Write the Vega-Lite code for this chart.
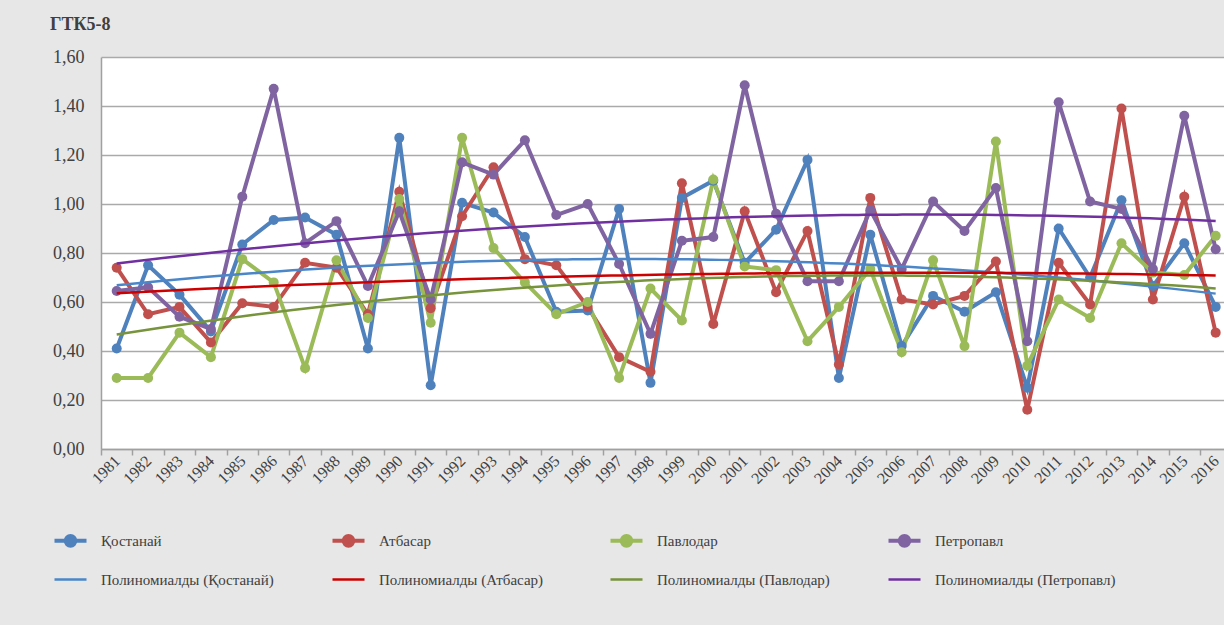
{
  "$schema": "https://vega.github.io/schema/vega-lite/v6.json",
  "autosize": {"type": "none"},
  "padding": {"left": 101, "top": 57, "right": 0, "bottom": 176},
  "width": 1123,
  "height": 392,
  "background": "#e7e7e7",
  "title": {
    "text": "ГТК5-8",
    "anchor": "start",
    "frame": "group",
    "dx": -51,
    "dy": 26,
    "offset": 26,
    "baseline": "alphabetic",
    "font": "Liberation Serif",
    "fontSize": 18,
    "fontWeight": "bold",
    "color": "#404040"
  },
  "config": {
    "view": {"fill": "white", "stroke": null},
    "font": "Liberation Serif",
    "legend": {"labelFont": "Liberation Serif"},
    "axis": {
      "labelFont": "Liberation Serif",
      "labelColor": "#404040",
      "domainColor": "#a0a0a0",
      "domainWidth": 1.5,
      "tickColor": "#a0a0a0",
      "tickWidth": 1.5,
      "gridColor": "#aaaaaa",
      "gridWidth": 1.5
    }
  },
  "datasets": {
    "d": [
      {"year":1981,"station":"Қостанай","trend":"Полиномиалды (Қостанай)","value":0.41},
      {"year":1982,"station":"Қостанай","trend":"Полиномиалды (Қостанай)","value":0.75},
      {"year":1983,"station":"Қостанай","trend":"Полиномиалды (Қостанай)","value":0.63},
      {"year":1984,"station":"Қостанай","trend":"Полиномиалды (Қостанай)","value":0.48},
      {"year":1985,"station":"Қостанай","trend":"Полиномиалды (Қостанай)","value":0.835},
      {"year":1986,"station":"Қостанай","trend":"Полиномиалды (Қостанай)","value":0.935},
      {"year":1987,"station":"Қостанай","trend":"Полиномиалды (Қостанай)","value":0.945},
      {"year":1988,"station":"Қостанай","trend":"Полиномиалды (Қостанай)","value":0.875},
      {"year":1989,"station":"Қостанай","trend":"Полиномиалды (Қостанай)","value":0.41},
      {"year":1990,"station":"Қостанай","trend":"Полиномиалды (Қостанай)","value":1.27},
      {"year":1991,"station":"Қостанай","trend":"Полиномиалды (Қостанай)","value":0.26},
      {"year":1992,"station":"Қостанай","trend":"Полиномиалды (Қостанай)","value":1.005},
      {"year":1993,"station":"Қостанай","trend":"Полиномиалды (Қостанай)","value":0.965},
      {"year":1994,"station":"Қостанай","trend":"Полиномиалды (Қостанай)","value":0.865},
      {"year":1995,"station":"Қостанай","trend":"Полиномиалды (Қостанай)","value":0.56},
      {"year":1996,"station":"Қостанай","trend":"Полиномиалды (Қостанай)","value":0.565},
      {"year":1997,"station":"Қостанай","trend":"Полиномиалды (Қостанай)","value":0.98},
      {"year":1998,"station":"Қостанай","trend":"Полиномиалды (Қостанай)","value":0.27},
      {"year":1999,"station":"Қостанай","trend":"Полиномиалды (Қостанай)","value":1.025},
      {"year":2000,"station":"Қостанай","trend":"Полиномиалды (Қостанай)","value":1.095},
      {"year":2001,"station":"Қостанай","trend":"Полиномиалды (Қостанай)","value":0.76},
      {"year":2002,"station":"Қостанай","trend":"Полиномиалды (Қостанай)","value":0.895},
      {"year":2003,"station":"Қостанай","trend":"Полиномиалды (Қостанай)","value":1.18},
      {"year":2004,"station":"Қостанай","trend":"Полиномиалды (Қостанай)","value":0.29},
      {"year":2005,"station":"Қостанай","trend":"Полиномиалды (Қостанай)","value":0.875},
      {"year":2006,"station":"Қостанай","trend":"Полиномиалды (Қостанай)","value":0.42},
      {"year":2007,"station":"Қостанай","trend":"Полиномиалды (Қостанай)","value":0.625},
      {"year":2008,"station":"Қостанай","trend":"Полиномиалды (Қостанай)","value":0.56},
      {"year":2009,"station":"Қостанай","trend":"Полиномиалды (Қостанай)","value":0.64},
      {"year":2010,"station":"Қостанай","trend":"Полиномиалды (Қостанай)","value":0.25},
      {"year":2011,"station":"Қостанай","trend":"Полиномиалды (Қостанай)","value":0.9},
      {"year":2012,"station":"Қостанай","trend":"Полиномиалды (Қостанай)","value":0.7},
      {"year":2013,"station":"Қостанай","trend":"Полиномиалды (Қостанай)","value":1.015},
      {"year":2014,"station":"Қостанай","trend":"Полиномиалды (Қостанай)","value":0.665},
      {"year":2015,"station":"Қостанай","trend":"Полиномиалды (Қостанай)","value":0.84},
      {"year":2016,"station":"Қостанай","trend":"Полиномиалды (Қостанай)","value":0.58},

      {"year":1981,"station":"Атбасар","trend":"Полиномиалды (Атбасар)","value":0.74},
      {"year":1982,"station":"Атбасар","trend":"Полиномиалды (Атбасар)","value":0.55},
      {"year":1983,"station":"Атбасар","trend":"Полиномиалды (Атбасар)","value":0.58},
      {"year":1984,"station":"Атбасар","trend":"Полиномиалды (Атбасар)","value":0.435},
      {"year":1985,"station":"Атбасар","trend":"Полиномиалды (Атбасар)","value":0.595},
      {"year":1986,"station":"Атбасар","trend":"Полиномиалды (Атбасар)","value":0.58},
      {"year":1987,"station":"Атбасар","trend":"Полиномиалды (Атбасар)","value":0.76},
      {"year":1988,"station":"Атбасар","trend":"Полиномиалды (Атбасар)","value":0.74},
      {"year":1989,"station":"Атбасар","trend":"Полиномиалды (Атбасар)","value":0.55},
      {"year":1990,"station":"Атбасар","trend":"Полиномиалды (Атбасар)","value":1.05},
      {"year":1991,"station":"Атбасар","trend":"Полиномиалды (Атбасар)","value":0.575},
      {"year":1992,"station":"Атбасар","trend":"Полиномиалды (Атбасар)","value":0.95},
      {"year":1993,"station":"Атбасар","trend":"Полиномиалды (Атбасар)","value":1.15},
      {"year":1994,"station":"Атбасар","trend":"Полиномиалды (Атбасар)","value":0.775},
      {"year":1995,"station":"Атбасар","trend":"Полиномиалды (Атбасар)","value":0.75},
      {"year":1996,"station":"Атбасар","trend":"Полиномиалды (Атбасар)","value":0.58},
      {"year":1997,"station":"Атбасар","trend":"Полиномиалды (Атбасар)","value":0.375},
      {"year":1998,"station":"Атбасар","trend":"Полиномиалды (Атбасар)","value":0.315},
      {"year":1999,"station":"Атбасар","trend":"Полиномиалды (Атбасар)","value":1.085},
      {"year":2000,"station":"Атбасар","trend":"Полиномиалды (Атбасар)","value":0.51},
      {"year":2001,"station":"Атбасар","trend":"Полиномиалды (Атбасар)","value":0.97},
      {"year":2002,"station":"Атбасар","trend":"Полиномиалды (Атбасар)","value":0.64},
      {"year":2003,"station":"Атбасар","trend":"Полиномиалды (Атбасар)","value":0.89},
      {"year":2004,"station":"Атбасар","trend":"Полиномиалды (Атбасар)","value":0.345},
      {"year":2005,"station":"Атбасар","trend":"Полиномиалды (Атбасар)","value":1.025},
      {"year":2006,"station":"Атбасар","trend":"Полиномиалды (Атбасар)","value":0.61},
      {"year":2007,"station":"Атбасар","trend":"Полиномиалды (Атбасар)","value":0.59},
      {"year":2008,"station":"Атбасар","trend":"Полиномиалды (Атбасар)","value":0.625},
      {"year":2009,"station":"Атбасар","trend":"Полиномиалды (Атбасар)","value":0.765},
      {"year":2010,"station":"Атбасар","trend":"Полиномиалды (Атбасар)","value":0.16},
      {"year":2011,"station":"Атбасар","trend":"Полиномиалды (Атбасар)","value":0.76},
      {"year":2012,"station":"Атбасар","trend":"Полиномиалды (Атбасар)","value":0.59},
      {"year":2013,"station":"Атбасар","trend":"Полиномиалды (Атбасар)","value":1.39},
      {"year":2014,"station":"Атбасар","trend":"Полиномиалды (Атбасар)","value":0.61},
      {"year":2015,"station":"Атбасар","trend":"Полиномиалды (Атбасар)","value":1.03},
      {"year":2016,"station":"Атбасар","trend":"Полиномиалды (Атбасар)","value":0.475},

      {"year":1981,"station":"Павлодар","trend":"Полиномиалды (Павлодар)","value":0.29},
      {"year":1982,"station":"Павлодар","trend":"Полиномиалды (Павлодар)","value":0.29},
      {"year":1983,"station":"Павлодар","trend":"Полиномиалды (Павлодар)","value":0.475},
      {"year":1984,"station":"Павлодар","trend":"Полиномиалды (Павлодар)","value":0.375},
      {"year":1985,"station":"Павлодар","trend":"Полиномиалды (Павлодар)","value":0.775},
      {"year":1986,"station":"Павлодар","trend":"Полиномиалды (Павлодар)","value":0.68},
      {"year":1987,"station":"Павлодар","trend":"Полиномиалды (Павлодар)","value":0.33},
      {"year":1988,"station":"Павлодар","trend":"Полиномиалды (Павлодар)","value":0.77},
      {"year":1989,"station":"Павлодар","trend":"Полиномиалды (Павлодар)","value":0.535},
      {"year":1990,"station":"Павлодар","trend":"Полиномиалды (Павлодар)","value":1.02},
      {"year":1991,"station":"Павлодар","trend":"Полиномиалды (Павлодар)","value":0.515},
      {"year":1992,"station":"Павлодар","trend":"Полиномиалды (Павлодар)","value":1.27},
      {"year":1993,"station":"Павлодар","trend":"Полиномиалды (Павлодар)","value":0.82},
      {"year":1994,"station":"Павлодар","trend":"Полиномиалды (Павлодар)","value":0.68},
      {"year":1995,"station":"Павлодар","trend":"Полиномиалды (Павлодар)","value":0.55},
      {"year":1996,"station":"Павлодар","trend":"Полиномиалды (Павлодар)","value":0.6},
      {"year":1997,"station":"Павлодар","trend":"Полиномиалды (Павлодар)","value":0.29},
      {"year":1998,"station":"Павлодар","trend":"Полиномиалды (Павлодар)","value":0.655},
      {"year":1999,"station":"Павлодар","trend":"Полиномиалды (Павлодар)","value":0.525},
      {"year":2000,"station":"Павлодар","trend":"Полиномиалды (Павлодар)","value":1.1},
      {"year":2001,"station":"Павлодар","trend":"Полиномиалды (Павлодар)","value":0.745},
      {"year":2002,"station":"Павлодар","trend":"Полиномиалды (Павлодар)","value":0.73},
      {"year":2003,"station":"Павлодар","trend":"Полиномиалды (Павлодар)","value":0.44},
      {"year":2004,"station":"Павлодар","trend":"Полиномиалды (Павлодар)","value":0.58},
      {"year":2005,"station":"Павлодар","trend":"Полиномиалды (Павлодар)","value":0.735},
      {"year":2006,"station":"Павлодар","trend":"Полиномиалды (Павлодар)","value":0.395},
      {"year":2007,"station":"Павлодар","trend":"Полиномиалды (Павлодар)","value":0.77},
      {"year":2008,"station":"Павлодар","trend":"Полиномиалды (Павлодар)","value":0.42},
      {"year":2009,"station":"Павлодар","trend":"Полиномиалды (Павлодар)","value":1.255},
      {"year":2010,"station":"Павлодар","trend":"Полиномиалды (Павлодар)","value":0.34},
      {"year":2011,"station":"Павлодар","trend":"Полиномиалды (Павлодар)","value":0.61},
      {"year":2012,"station":"Павлодар","trend":"Полиномиалды (Павлодар)","value":0.535},
      {"year":2013,"station":"Павлодар","trend":"Полиномиалды (Павлодар)","value":0.84},
      {"year":2014,"station":"Павлодар","trend":"Полиномиалды (Павлодар)","value":0.72},
      {"year":2015,"station":"Павлодар","trend":"Полиномиалды (Павлодар)","value":0.71},
      {"year":2016,"station":"Павлодар","trend":"Полиномиалды (Павлодар)","value":0.87},

      {"year":1981,"station":"Петропавл","trend":"Полиномиалды (Петропавл)","value":0.645},
      {"year":1982,"station":"Петропавл","trend":"Полиномиалды (Петропавл)","value":0.66},
      {"year":1983,"station":"Петропавл","trend":"Полиномиалды (Петропавл)","value":0.54},
      {"year":1984,"station":"Петропавл","trend":"Полиномиалды (Петропавл)","value":0.49},
      {"year":1985,"station":"Петропавл","trend":"Полиномиалды (Петропавл)","value":1.03},
      {"year":1986,"station":"Петропавл","trend":"Полиномиалды (Петропавл)","value":1.47},
      {"year":1987,"station":"Петропавл","trend":"Полиномиалды (Петропавл)","value":0.84},
      {"year":1988,"station":"Петропавл","trend":"Полиномиалды (Петропавл)","value":0.93},
      {"year":1989,"station":"Петропавл","trend":"Полиномиалды (Петропавл)","value":0.665},
      {"year":1990,"station":"Петропавл","trend":"Полиномиалды (Петропавл)","value":0.97},
      {"year":1991,"station":"Петропавл","trend":"Полиномиалды (Петропавл)","value":0.61},
      {"year":1992,"station":"Петропавл","trend":"Полиномиалды (Петропавл)","value":1.17},
      {"year":1993,"station":"Петропавл","trend":"Полиномиалды (Петропавл)","value":1.12},
      {"year":1994,"station":"Петропавл","trend":"Полиномиалды (Петропавл)","value":1.26},
      {"year":1995,"station":"Петропавл","trend":"Полиномиалды (Петропавл)","value":0.955},
      {"year":1996,"station":"Петропавл","trend":"Полиномиалды (Петропавл)","value":1.0},
      {"year":1997,"station":"Петропавл","trend":"Полиномиалды (Петропавл)","value":0.755},
      {"year":1998,"station":"Петропавл","trend":"Полиномиалды (Петропавл)","value":0.47},
      {"year":1999,"station":"Петропавл","trend":"Полиномиалды (Петропавл)","value":0.85},
      {"year":2000,"station":"Петропавл","trend":"Полиномиалды (Петропавл)","value":0.865},
      {"year":2001,"station":"Петропавл","trend":"Полиномиалды (Петропавл)","value":1.485},
      {"year":2002,"station":"Петропавл","trend":"Полиномиалды (Петропавл)","value":0.96},
      {"year":2003,"station":"Петропавл","trend":"Полиномиалды (Петропавл)","value":0.685},
      {"year":2004,"station":"Петропавл","trend":"Полиномиалды (Петропавл)","value":0.685},
      {"year":2005,"station":"Петропавл","trend":"Полиномиалды (Петропавл)","value":0.975},
      {"year":2006,"station":"Петропавл","trend":"Полиномиалды (Петропавл)","value":0.735},
      {"year":2007,"station":"Петропавл","trend":"Полиномиалды (Петропавл)","value":1.01},
      {"year":2008,"station":"Петропавл","trend":"Полиномиалды (Петропавл)","value":0.89},
      {"year":2009,"station":"Петропавл","trend":"Полиномиалды (Петропавл)","value":1.065},
      {"year":2010,"station":"Петропавл","trend":"Полиномиалды (Петропавл)","value":0.44},
      {"year":2011,"station":"Петропавл","trend":"Полиномиалды (Петропавл)","value":1.415},
      {"year":2012,"station":"Петропавл","trend":"Полиномиалды (Петропавл)","value":1.01},
      {"year":2013,"station":"Петропавл","trend":"Полиномиалды (Петропавл)","value":0.98},
      {"year":2014,"station":"Петропавл","trend":"Полиномиалды (Петропавл)","value":0.735},
      {"year":2015,"station":"Петропавл","trend":"Полиномиалды (Петропавл)","value":1.36},
      {"year":2016,"station":"Петропавл","trend":"Полиномиалды (Петропавл)","value":0.815}
    ]
  },
  "data": {"name": "d"},
  "encoding": {
    "x": {
      "field": "year",
      "type": "quantitative",
      "scale": {"domain": [1980.5, 2016.265], "nice": false, "zero": false},
      "axis": {
        "title": null,
        "grid": false,
        "values": [1981,1982,1983,1984,1985,1986,1987,1988,1989,1990,1991,1992,1993,1994,1995,1996,1997,1998,1999,2000,2001,2002,2003,2004,2005,2006,2007,2008,2009,2010,2011,2012,2013,2014,2015,2016],
        "format": "d",
        "tickOffset": -15.7,
        "labelOffset": 16,
        "tickSize": 6,
        "labelAngle": -45,
        "labelAlign": "right",
        "labelBaseline": "middle",
        "labelFontSize": 16,
        "labelPadding": 3,
        "labelOverlap": false
      }
    },
    "y": {
      "field": "value",
      "type": "quantitative",
      "scale": {"domain": [0, 1.6], "nice": false},
      "axis": {
        "title": null,
        "values": [0, 0.2, 0.4, 0.6, 0.8, 1.0, 1.2, 1.4, 1.6],
        "labelExpr": "replace(format(datum.value, '.2f'), '.', ',')",
        "ticks": false,
        "labelPadding": 17,
        "labelFontSize": 18,
        "grid": true
      }
    },
    "color": {
      "field": "station",
      "type": "nominal",
      "scale": {
        "domain": ["Қостанай", "Атбасар", "Павлодар", "Петропавл", "Полиномиалды (Қостанай)", "Полиномиалды (Атбасар)", "Полиномиалды (Павлодар)", "Полиномиалды (Петропавл)"],
        "range": ["#4f81bd", "#c0504d", "#9bbb59", "#8064a2", "#4a86c8", "#cc0000", "#77933c", "#7030a0"]
      },
      "legend": {
        "title": null,
        "orient": "none",
        "legendX": -38,
        "legendY": 476,
        "direction": "horizontal",
        "columns": 4,
        "gridAlign": "all",
        "columnPadding": 42,
        "rowPadding": 18,
        "symbolSize": 1024,
        "labelOffset": 23,
        "labelFont": "Liberation Serif",
        "labelFontSize": 15,
        "labelColor": "#404040",
        "labelLimit": 400,
        "encode": {
          "symbols": {
            "update": {
              "shape": {"signal": "datum.index < 4 ? 'M-1,0H1M0.3,0A0.3,0.3 0 1 1 -0.3,0A0.3,0.3 0 1 1 0.3,0' : 'M-1,0H1'"},
              "strokeWidth": {"signal": "datum.index < 4 ? 4 : 2.5"},
              "fill": {"scale": "color", "field": "value"},
              "stroke": {"scale": "color", "field": "value"},
              "opacity": {"value": 1}
            }
          }
        }
      }
    }
  },
  "layer": [
    {
      "mark": {"type": "line", "strokeWidth": 4},
      "encoding": {}
    },
    {
      "mark": {"type": "point", "filled": true, "size": 100, "opacity": 1},
      "encoding": {}
    },
    {
      "transform": [
        {"regression": "value", "on": "year", "groupby": ["trend"], "method": "poly", "order": 2, "extent": [1981, 2016]}
      ],
      "mark": {"type": "line", "strokeWidth": 2.5},
      "encoding": {
        "color": {"field": "trend", "type": "nominal"}
      }
    }
  ]
}
